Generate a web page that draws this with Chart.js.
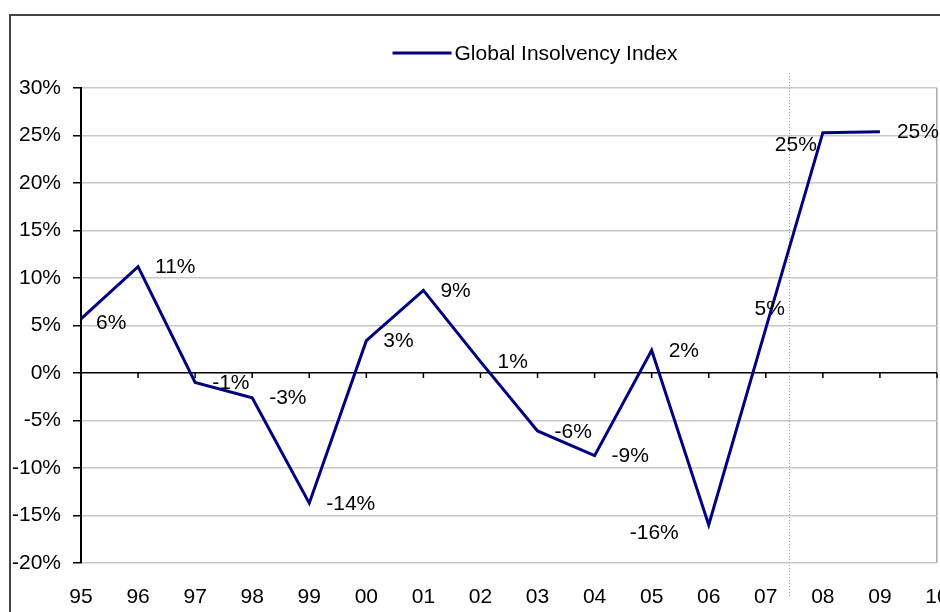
<!DOCTYPE html>
<html>
<head>
<meta charset="utf-8">
<script src="https://cdn.jsdelivr.net/npm/chart.js@4"></script>
<style>
  html, body { margin: 0; padding: 0; background: #fff; }
  #wrap { width: 940px; height: 612px; position: relative; }
</style>
</head>
<body>
<div id="wrap"><canvas id="c" width="940" height="612"></canvas></div>
<script>
// ---- data ----
const categories = ['95','96','97','98','99','00','01','02','03','04','05','06','07','08','09','10'];
const insolvencyIndex = [5.7, 11.2, -1.0, -2.6, -13.7, 3.4, 8.7, 1.2, -6.1, -8.7, 2.4, -16.0, 4.7, 25.3, 25.4, null];
const seriesName = 'Global Insolvency Index';
const yTickMin = -20, yTickMax = 30, yTickStep = 5;
// placement of each value label relative to its point
const labelPlacement = ['lowRight','right','right','right','right','right','right','right','right','right','right','lowerLeft','above','left','right','right'];
// forecast divider sits between '07' and '08' (category index units)
const dividerPosition = 12.4;

const FONT = '"Liberation Sans", Arial, sans-serif';
const NAVY = '#000080';

const extras = {
  id: 'extras',
  beforeDraw(chart) {
    const ctx = chart.ctx;
    ctx.save();
    ctx.strokeStyle = '#444';
    ctx.lineWidth = 2;
    ctx.strokeRect(10, 15, 960, 700);
    ctx.restore();
  },
  beforeDatasetsDraw(chart) {
    const ctx = chart.ctx, xs = chart.scales.x, ys = chart.scales.y, ca = chart.chartArea;
    ctx.save();
    // forecast divider
    const dx = Math.round(xs.getPixelForValue(dividerPosition)) + 0.5;
    ctx.strokeStyle = '#a0a0a0';
    ctx.lineWidth = 1;
    ctx.setLineDash([1, 2]);
    ctx.beginPath();
    ctx.moveTo(dx, ca.top - 15);
    ctx.lineTo(dx, ca.bottom + 34);
    ctx.stroke();
    ctx.setLineDash([]);
    // tick marks along zero line
    const y0 = ys.getPixelForValue(0);
    ctx.strokeStyle = '#000';
    ctx.lineWidth = 1.5;
    ctx.beginPath();
    for (let i = 0; i < categories.length; i++) {
      const x = xs.getPixelForTick(i);
      ctx.moveTo(x, y0);
      ctx.lineTo(x, y0 + 5);
    }
    ctx.stroke();
    ctx.restore();
  },
  afterDatasetsDraw(chart) {
    const ctx = chart.ctx;
    const meta = chart.getDatasetMeta(0);
    ctx.save();
    ctx.font = '21px ' + FONT;
    ctx.fillStyle = '#000';
    ctx.textBaseline = 'middle';
    meta.data.forEach((pt, i) => {
      const v = insolvencyIndex[i];
      if (v === null || v === undefined) return;
      const txt = Math.round(v) + '%';
      let x = pt.x, y = pt.y;
      switch (labelPlacement[i]) {
        case 'lowerLeft': ctx.textAlign = 'right'; x -= 30; y += 8; break;
        case 'above': ctx.textAlign = 'center'; x += 4; y -= 19; break;
        case 'left': ctx.textAlign = 'right'; x -= 6; y += 13; break;
        case 'lowRight': ctx.textAlign = 'left'; x += 15; y += 4; break;
        default: ctx.textAlign = 'left'; x += 17; y += 1;
      }
      ctx.fillText(txt, x, y);
    });
    ctx.restore();
  },
  afterDraw(chart) {
    // legend
    const ctx = chart.ctx, ca = chart.chartArea;
    ctx.save();
    ctx.font = '21px ' + FONT;
    const tw = ctx.measureText(seriesName).width;
    const lineW = 59, gap = 3;
    const total = lineW + gap + tw;
    const cx = (ca.left + ca.right) / 2 + 26;
    const x0 = cx - total / 2;
    const ly = 53;
    ctx.strokeStyle = NAVY;
    ctx.lineWidth = 3;
    ctx.beginPath();
    ctx.moveTo(x0, ly);
    ctx.lineTo(x0 + lineW, ly);
    ctx.stroke();
    ctx.fillStyle = '#000';
    ctx.textBaseline = 'middle';
    ctx.textAlign = 'left';
    ctx.fillText(seriesName, x0 + lineW + gap, ly + 1);
    ctx.restore();
  }
};

new Chart(document.getElementById('c'), {
  type: 'line',
  data: {
    labels: categories,
    datasets: [{
      label: seriesName,
      data: insolvencyIndex,
      borderColor: NAVY,
      backgroundColor: NAVY,
      borderWidth: 3,
      pointRadius: 0,
      tension: 0,
      fill: false
    }]
  },
  options: {
    responsive: false,
    animation: false,
    devicePixelRatio: 1,
    layout: { padding: { top: 88, left: 0, right: 3, bottom: 0 } },
    plugins: { legend: { display: false }, tooltip: { enabled: false } },
    scales: {
      x: {
        type: 'category',
        offset: false,
        border: { display: false },
        grid: {
          display: true,
          drawTicks: false,
          color: (c) => (c.index === categories.length - 1 ? '#a8a8a8' : 'rgba(0,0,0,0)'),
          lineWidth: 1.5
        },
        ticks: {
          autoSkip: false,
          maxRotation: 0,
          padding: 22,
          color: '#000',
          font: { family: FONT, size: 21 }
        },
        afterFit(s) { s.height = 49; s.paddingLeft = 0; s.paddingRight = 0; }
      },
      y: {
        min: yTickMin,
        max: yTickMax,
        border: { display: true, color: '#000', width: 2 },
        grid: {
          color: (c) => (c.tick && c.tick.value === 0 ? '#000' : '#c8c8c8'),
          lineWidth: 1.5,
          tickColor: '#000',
          tickLength: 8,
          drawTicks: true
        },
        ticks: {
          stepSize: yTickStep,
          padding: 12,
          color: '#000',
          font: { family: FONT, size: 21 },
          callback: (v) => v + '%'
        },
        afterFit(s) { s.width = 81; s.paddingTop = 0; s.paddingBottom = 0; }
      }
    }
  },
  plugins: [extras]
});
</script>
</body>
</html>
